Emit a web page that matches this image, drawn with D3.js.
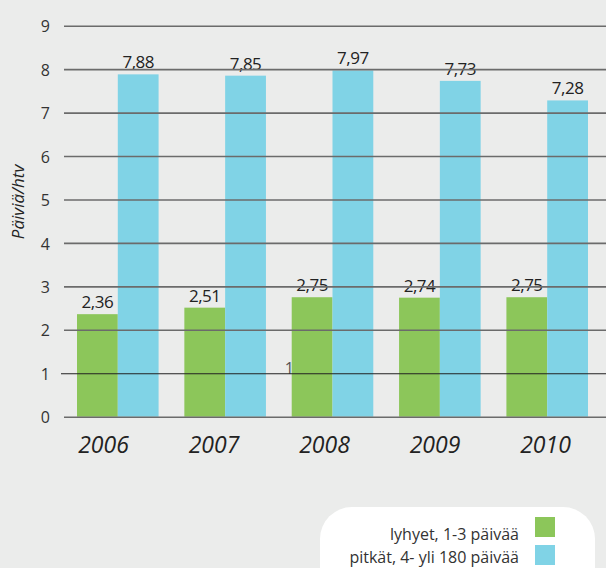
<!DOCTYPE html>
<html>
<head>
<meta charset="utf-8">
<script src="https://cdn.jsdelivr.net/npm/d3@7"></script>
<style>
  html, body { margin: 0; padding: 0; background: #ebeceb; }
  svg { display: block; font-family: "Open Sans", "Noto Sans", sans-serif; }
</style>
</head>
<body>
<svg id="chart" width="606" height="568"></svg>
<script>
// Sick-leave days per person-year, by length of absence
const years = ["2006", "2007", "2008", "2009", "2010"];
const shortLeave = [2.36, 2.51, 2.75, 2.74, 2.75];   // lyhyet, 1-3 päivää
const longLeave  = [7.88, 7.85, 7.97, 7.73, 7.28];   // pitkät, 4- yli 180 päivää
const yTicks = [0, 1, 2, 3, 4, 5, 6, 7, 8, 9];
const seriesNames = ["lyhyet, 1-3 päivää", "pitkät, 4- yli 180 päivää"];
const seriesColors = ["#8cc65a", "#80d3e6"];

const svg = d3.select("#chart");
const fmt = v => d3.format(".2f")(v).replace(".", ",");

const y = d3.scaleLinear().domain([0, 9]).range([416.7, 25.7]);
const x = d3.scaleBand().domain(years).range([77, 588]).paddingInner(0.24).paddingOuter(0);
const sub = d3.scaleBand().domain([0, 1]).range([0, x.bandwidth()]).padding(0);
// year captions sit a little left of each bar pair
const xLabel = d3.scalePoint().domain(years).range([103.5, 545.5]);

// stray label left behind the 2008 bars
svg.append("text")
  .attr("x", 294).attr("y", y(1) - 4)
  .attr("text-anchor", "end").attr("dominant-baseline", "middle")
  .attr("font-size", 16).attr("fill", "#555")
  .text("1");

// bars
const groups = svg.append("g").selectAll("g")
  .data(years.map((yr, i) => ({ yr, vals: [shortLeave[i], longLeave[i]] })))
  .join("g")
  .attr("transform", d => `translate(${x(d.yr)},0)`);

groups.selectAll("rect")
  .data(d => d.vals.map((v, k) => ({ v, k })))
  .join("rect")
  .attr("x", d => sub(d.k))
  .attr("width", sub.bandwidth())
  .attr("y", d => y(d.v))
  .attr("height", d => y(0) - y(d.v))
  .attr("fill", d => seriesColors[d.k]);

// gridlines sit on top of the bars
const yAxis = d3.axisLeft(y).tickValues(yTicks).tickSize(-(606 - 64)).tickPadding(14).tickFormat(d3.format("d"));
const ga = svg.append("g").attr("transform", "translate(64,0)").call(yAxis);
ga.select(".domain").remove();
ga.selectAll(".tick line")
  .attr("stroke", d => d === 1 ? "#222" : "#6b6b6b")
  .attr("stroke-width", d => d === 1 ? 1.2 : 1.6)
  .attr("x1", d => d === 1 ? -3 : 0);
ga.selectAll(".tick text")
  .attr("font-size", 16).attr("fill", "#333")
  .attr("font-family", "\"Open Sans\", sans-serif")
  .attr("dy", "0.38em");

// value labels
groups.selectAll("text.val")
  .data(d => d.vals.map((v, k) => ({ v, k })))
  .join("text")
  .attr("class", "val")
  .attr("x", d => sub(d.k) + sub.bandwidth() / 2)
  .attr("y", d => y(d.v) - 6)
  .attr("text-anchor", "middle")
  .attr("font-size", 17).attr("fill", "#222")
  .attr("letter-spacing", "-0.5")
  .text(d => fmt(d.v));

// year labels
svg.append("g").selectAll("text")
  .data(years)
  .join("text")
  .attr("x", d => xLabel(d))
  .attr("y", 453)
  .attr("text-anchor", "middle")
  .attr("font-size", 23).attr("font-style", "italic").attr("font-weight", 500)
  .attr("fill", "#222")
  .text(d => d);

// axis title
svg.append("text")
  .attr("transform", "translate(24,202) rotate(-90)")
  .attr("text-anchor", "middle")
  .attr("font-size", 17).attr("font-style", "italic").attr("fill", "#222")
  .text("Päiviä/htv");

// legend
const lg = svg.append("g");
lg.append("rect")
  .attr("x", 320).attr("y", 507).attr("width", 275).attr("height", 100)
  .attr("rx", 32).attr("fill", "#ffffff");
seriesNames.forEach((name, k) => {
  lg.append("rect")
    .attr("x", 535).attr("y", 517 + k * 28).attr("width", 20).attr("height", 20)
    .attr("fill", seriesColors[k]);
  lg.append("text")
    .attr("x", 519).attr("y", 540 + k * 22.7)
    .attr("text-anchor", "end")
    .attr("font-size", 16).attr("fill", "#333")
    .text(name);
});
</script>
</body>
</html>
